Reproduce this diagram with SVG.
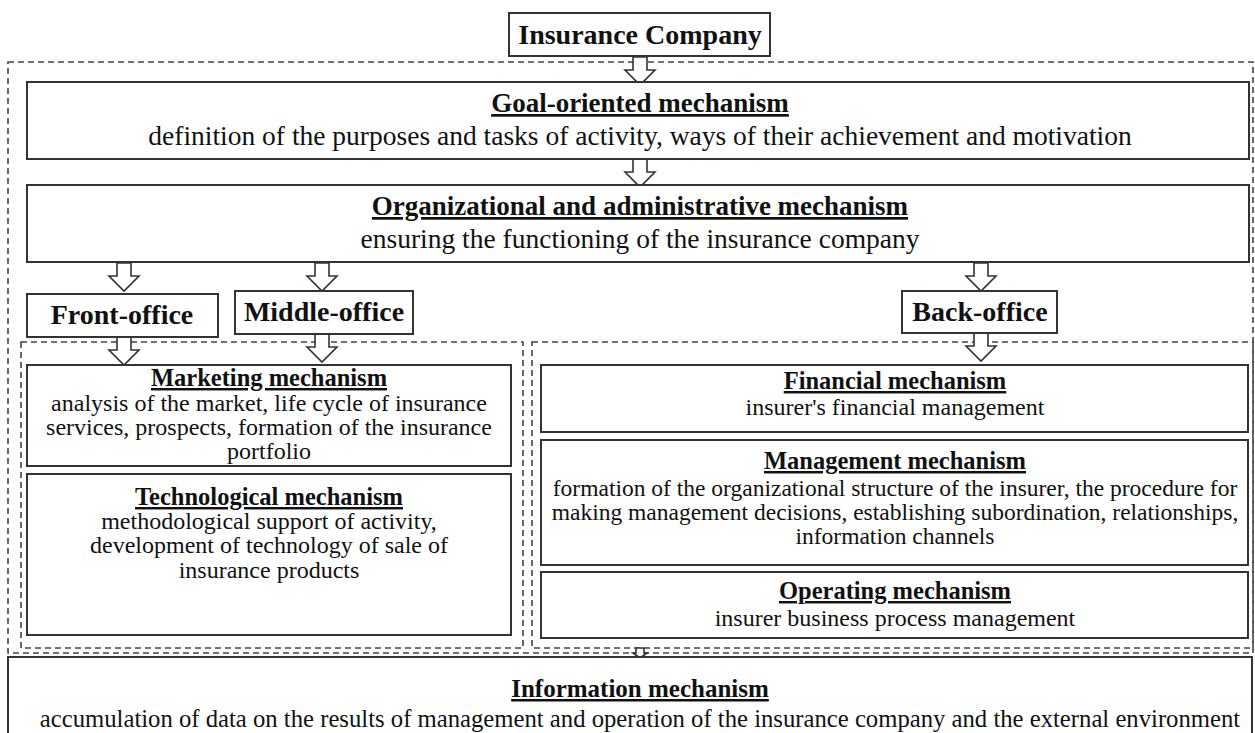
<svg xmlns="http://www.w3.org/2000/svg" xmlns:xlink="http://www.w3.org/1999/xlink" width="1255" height="733" viewBox="0 0 1255 733">
<style>
.box{fill:#fff;stroke:#333;stroke-width:2}
.dash{fill:none;stroke:#444;stroke-width:1.6;stroke-dasharray:6 4}
.arr{fill:#fff;stroke:#333;stroke-width:1.6;stroke-linejoin:miter}
text{font-family:"Liberation Serif","Times New Roman",serif;fill:#111;text-anchor:middle}
.big{font-size:27.5px}
.bigb{font-size:27px;font-weight:bold;text-decoration:underline}
.hb{font-size:28px;font-weight:bold}
.sb{font-size:24.5px;font-weight:bold;text-decoration:underline}
.s{font-size:24px}
.sm{font-size:23.5px}
.ib{font-size:25px;font-weight:bold;text-decoration:underline}
.it{font-size:24.7px}
</style>
<defs>
<path id="ar" d="M-7,0 L7,0 L7,13 L15,13 L0,28 L-15,13 L-7,13 Z"/>
<path id="ars" d="M-4,0 L4,0 L4,5 L7,5 L0,10 L-7,5 L-4,5 Z"/>
</defs>
<g id="frames">
<rect class="dash" x="8" y="62" width="1245" height="591"/>
<rect class="dash" x="21" y="342" width="502" height="306"/>
<rect class="dash" x="532" y="342" width="721" height="306"/>
</g>
<g id="connectors">
<use href="#ar" class="arr" x="640" y="57"/>
<use href="#ar" class="arr" x="640" y="159"/>
<use href="#ar" class="arr" x="124" y="263"/>
<use href="#ar" class="arr" x="322" y="263"/>
<use href="#ar" class="arr" x="981" y="263"/>
<use href="#ar" class="arr" x="124" y="337"/>
<use href="#ar" class="arr" x="322" y="334"/>
<use href="#ar" class="arr" x="981" y="333"/>
<use href="#ars" class="arr" x="640" y="648"/>
</g>
<g id="insurance-company">
<rect class="box" x="509" y="13" width="261" height="43"/>
<text class="hb" x="640" y="44">Insurance Company</text>
</g>
<g id="goal">
<rect class="box" x="27" y="82" width="1222" height="77"/>
<text class="bigb" x="640" y="112">Goal-oriented mechanism</text>
<text class="big" x="640" y="145">definition of the purposes and tasks of activity, ways of their achievement and motivation</text>
</g>
<g id="organizational">
<rect class="box" x="27" y="185" width="1222" height="77"/>
<text class="bigb" x="640" y="215">Organizational and administrative mechanism</text>
<text class="big" x="640" y="248">ensuring the functioning of the insurance company</text>
</g>
<g id="front-office">
<rect class="box" x="27" y="294" width="191" height="43"/>
<text class="hb" x="122" y="324">Front-office</text>
</g>
<g id="middle-office">
<rect class="box" x="235" y="291" width="178" height="43"/>
<text class="hb" x="324" y="321">Middle-office</text>
</g>
<g id="back-office">
<rect class="box" x="902" y="291" width="155" height="42"/>
<text class="hb" x="980" y="321">Back-office</text>
</g>
<g id="marketing">
<rect class="box" x="27" y="365" width="484" height="101"/>
<text class="sb" x="269" y="386">Marketing mechanism</text>
<text class="s" x="269" y="411">analysis of the market, life cycle of insurance</text>
<text class="s" x="269" y="435">services, prospects, formation of the insurance</text>
<text class="s" x="269" y="459">portfolio</text>
</g>
<g id="technological">
<rect class="box" x="27" y="474" width="484" height="161"/>
<text class="sb" x="269" y="505">Technological mechanism</text>
<text class="s" x="269" y="529">methodological support of activity,</text>
<text class="s" x="269" y="553">development of technology of sale of</text>
<text class="s" x="269" y="578">insurance products</text>
</g>
<g id="financial">
<rect class="box" x="541" y="365" width="707" height="67"/>
<text class="sb" x="895" y="389">Financial mechanism</text>
<text class="s" x="895" y="415">insurer's financial management</text>
</g>
<g id="management">
<rect class="box" x="541" y="440" width="707" height="125"/>
<text class="sb" x="895" y="469">Management mechanism</text>
<text class="sm" x="895" y="496">formation of the organizational structure of the insurer, the procedure for</text>
<text class="sm" x="895" y="520">making management decisions, establishing subordination, relationships,</text>
<text class="sm" x="895" y="544">information channels</text>
</g>
<g id="operating">
<rect class="box" x="541" y="572" width="707" height="66"/>
<text class="sb" x="895" y="599">Operating mechanism</text>
<text class="s" x="895" y="626">insurer business process management</text>
</g>
<g id="information">
<rect class="box" x="8" y="657" width="1244" height="90"/>
<text class="ib" x="640" y="697">Information mechanism</text>
<text class="it" x="640" y="727">accumulation of data on the results of management and operation of the insurance company and the external environment</text>
</g>
</svg>
